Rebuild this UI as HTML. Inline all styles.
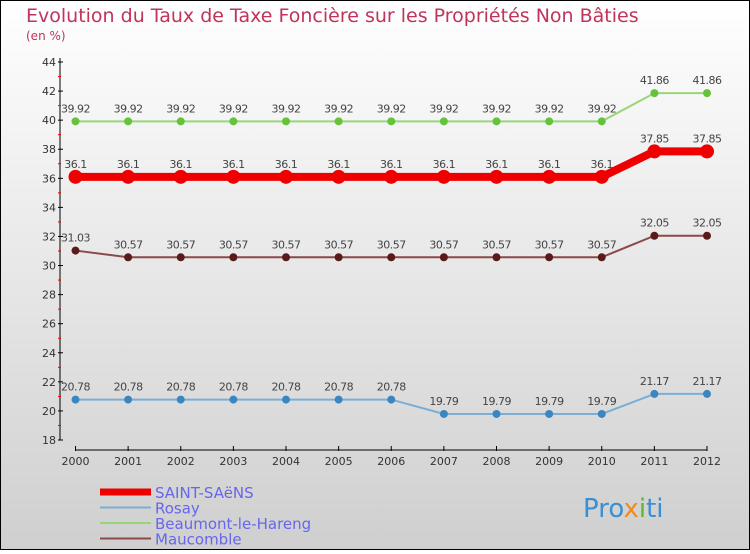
<!DOCTYPE html>
<html><head><meta charset="utf-8"><style>
body{margin:0;width:750px;height:550px;overflow:hidden;font-family:"DejaVu Sans","Liberation Sans",sans-serif}
svg text{font-family:"DejaVu Sans","Liberation Sans",sans-serif}
</style></head><body>
<svg width="750" height="550">
<defs><linearGradient id="bg" x1="0" y1="0" x2="0" y2="1"><stop offset="0" stop-color="#ffffff"/><stop offset="1" stop-color="#cfcfcf"/></linearGradient></defs>
<rect x="0.5" y="0.5" width="749" height="549" fill="url(#bg)" stroke="#000"/>
<text x="26" y="22" font-size="19" fill="#c0335a">Evolution du Taux de Taxe Foncière sur les Propriétés Non Bâties</text>
<text x="26" y="40" font-size="12" fill="#c0335a">(en %)</text>
<g id="axes"></g>
<g id="series"></g>
<g id="legend"></g>
<text x="583" y="517" font-size="26" fill="#3a8fd0">Pro<tspan fill="#f08a1a">x</tspan><tspan fill="#5cb82c">i</tspan>ti</text>
</svg>
<script>
const years=[2000,2001,2002,2003,2004,2005,2006,2007,2008,2009,2010,2011,2012];
const yTicks=[18,20,22,24,26,28,30,32,34,36,38,40,42,44];
const saintSaens=[36.1,36.1,36.1,36.1,36.1,36.1,36.1,36.1,36.1,36.1,36.1,37.85,37.85];
const rosay=[20.78,20.78,20.78,20.78,20.78,20.78,20.78,19.79,19.79,19.79,19.79,21.17,21.17];
const beaumont=[39.92,39.92,39.92,39.92,39.92,39.92,39.92,39.92,39.92,39.92,39.92,41.86,41.86];
const maucomble=[31.03,30.57,30.57,30.57,30.57,30.57,30.57,30.57,30.57,30.57,30.57,32.05,32.05];
const NS="http://www.w3.org/2000/svg";
const X=i=>75.5+i*(707-75.5)/(years.length-1);
const Y=v=>440-(v-18)*(378/26);
function mk(p,t,a){const e=document.createElementNS(NS,t);for(const k in a)e.setAttribute(k,a[k]);p.appendChild(e);return e;}
const ax=document.getElementById('axes');
mk(ax,'line',{x1:60,y1:58,x2:60,y2:Y(18),stroke:'#000'});
mk(ax,'line',{x1:X(0),y1:450,x2:X(years.length-1),y2:450,stroke:'#000'});
yTicks.forEach(v=>{
 mk(ax,'line',{x1:58,y1:Y(v),x2:63,y2:Y(v),stroke:'#000'});
 if(v<44) mk(ax,'line',{x1:58,y1:Y(v+1),x2:61,y2:Y(v+1),stroke:'#e00'});
 const t=mk(ax,'text',{x:56,y:Y(v)+4,'font-size':11,'text-anchor':'end',fill:'#333'});t.textContent=v;
 
 
});
years.forEach((y,i)=>{
 mk(ax,'line',{x1:X(i),y1:446,x2:X(i),y2:451,stroke:'#000'});
 const t=mk(ax,'text',{x:X(i),y:465,'font-size':11,'text-anchor':'middle',fill:'#333'});t.textContent=y;
 
 
});
const se=document.getElementById('series');
const defs=[
 {n:'beaumont',d:beaumont,c:'#99d67a',pc:'#66c23a',w:2,r:4},
 {n:'maucomble',d:maucomble,c:'#8a4a4a',pc:'#5a1a1a',w:2,r:4},
 {n:'rosay',d:rosay,c:'#7aaed6',pc:'#3a86c0',w:2,r:4},
 {n:'saint-saens',d:saintSaens,c:'#ee0000',pc:'#ee0000',w:8,r:7}
];
defs.forEach(s=>{
 const g=mk(se,'g',{});
 
 
 mk(g,'polyline',{points:s.d.map((v,i)=>X(i)+','+Y(v)).join(' '),fill:'none',stroke:s.c,'stroke-width':s.w});
 s.d.forEach((v,i)=>{
  const c=mk(g,'circle',{cx:X(i),cy:Y(v),r:s.r,fill:s.pc});
  
  
  const t=mk(g,'text',{x:X(i),y:Y(v)-9,'font-size':11,'text-anchor':'middle',fill:'#444','letter-spacing':'-0.5'});t.textContent=v;
  
  
 });
});
const lg=document.getElementById('legend');
const items=[['SAINT-SAëNS','#ee0000',7],['Rosay','#7aaed6',2],['Beaumont-le-Hareng','#99d67a',2],['Maucomble','#8a4a4a',2]];
items.forEach((it,i)=>{
 const yy=492+i*15.5;
 const g=mk(lg,'g',{});
 
 
 mk(g,'line',{x1:100,y1:yy,x2:151,y2:yy,stroke:it[1],'stroke-width':it[2]});
 const t=mk(g,'text',{x:155,y:yy+6,'font-size':15,fill:'#6666ee'});t.textContent=it[0];
});
</script>
</body></html>
